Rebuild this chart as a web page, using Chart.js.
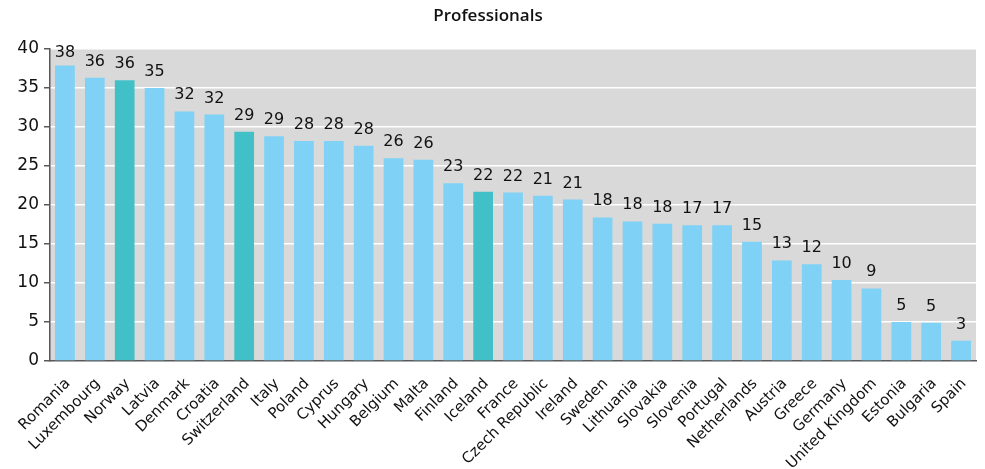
<!DOCTYPE html>
<html>
<head>
<meta charset="utf-8">
<title>Professionals</title>
<script src="https://cdn.jsdelivr.net/npm/chart.js@4.4.0/dist/chart.umd.min.js"></script>
<style>
  html, body { margin: 0; padding: 0; background: #fff; }
  #wrap { width: 985px; height: 469px; }
</style>
</head>
<body>
<div id="wrap"><canvas id="chart" width="985" height="469"></canvas></div>
<script>
// Data
const categories = [
  'Romania', 'Luxembourg', 'Norway', 'Latvia', 'Denmark', 'Croatia', 'Switzerland',
  'Italy', 'Poland', 'Cyprus', 'Hungary', 'Belgium', 'Malta', 'Finland', 'Iceland',
  'France', 'Czech Republic', 'Ireland', 'Sweden', 'Lithuania', 'Slovakia', 'Slovenia',
  'Portugal', 'Netherlands', 'Austria', 'Greece', 'Germany', 'United Kingdom',
  'Estonia', 'Bulgaria', 'Spain'
];
const values = [
  37.9, 36.3, 36.0, 35.0, 32.0, 31.6, 29.4,
  28.8, 28.2, 28.2, 27.6, 26.0, 25.8, 22.8, 21.7,
  21.6, 21.2, 20.7, 18.4, 17.9, 17.6, 17.4,
  17.4, 15.3, 12.9, 12.4, 10.4, 9.3,
  5.0, 4.9, 2.6
];
// non-EU countries drawn in the darker colour
const highlighted = ['Norway', 'Switzerland', 'Iceland'];
const yTicks = [0, 5, 10, 15, 20, 25, 30, 35, 40];

// Styles
const LIGHT = '#7FD1F5';
const TEAL = '#42C0C7';
const PLOT_BG = '#D9D9D9';
const AXIS = '#595959';
const FONT = "'DejaVu Sans', Verdana, sans-serif";

// grey plot background
const plotBg = {
  id: 'plotBg',
  beforeDraw(chart) {
    const { ctx, chartArea: a } = chart;
    ctx.save();
    ctx.fillStyle = PLOT_BG;
    ctx.fillRect(a.left, a.top, a.right - a.left, a.bottom - a.top);
    ctx.restore();
  }
};

// value labels above bars
const valueLabels = {
  id: 'valueLabels',
  afterDatasetsDraw(chart) {
    const { ctx } = chart;
    const meta = chart.getDatasetMeta(0);
    ctx.save();
    ctx.font = '16px ' + FONT;
    ctx.fillStyle = '#111';
    ctx.textAlign = 'center';
    ctx.textBaseline = 'alphabetic';
    meta.data.forEach((bar, i) => {
      const y = Math.max(bar.y - 12, 57);
      ctx.fillText(String(Math.round(values[i])), bar.x, y);
    });
    ctx.restore();
  }
};

new Chart(document.getElementById('chart'), {
  type: 'bar',
  data: {
    labels: categories,
    datasets: [{
      data: values,
      backgroundColor: categories.map(c => highlighted.includes(c) ? TEAL : LIGHT),
      borderWidth: 0,
      barPercentage: 0.66,
      categoryPercentage: 1
    }]
  },
  options: {
    responsive: false,
    animation: false,
    layout: { padding: { left: 0, right: 9, top: 0, bottom: 0 } },
    plugins: {
      legend: { display: false },
      tooltip: { enabled: false },
      title: {
        display: true,
        text: 'Professionals',
        color: '#111',
        font: { family: "'Open Sans', sans-serif", size: 17, weight: '600' },
        padding: { top: 6, bottom: 22.6 }
      }
    },
    scales: {
      x: {
        grid: { display: false },
        border: { display: true, color: AXIS, width: 1.5 },
        ticks: {
          autoSkip: false,
          minRotation: 45,
          maxRotation: 45,
          padding: 6,
          labelOffset: 3,
          color: '#111',
          font: { family: FONT, size: 15 }
        },
        afterFit(scale) { scale.height = 469 - 361; }
      },
      y: {
        min: yTicks[0],
        max: yTicks[yTicks.length - 1],
        afterBuildTicks(scale) { scale.ticks = yTicks.map(v => ({ value: v })); },
        grid: { color: '#FFFFFF', lineWidth: 1.5, tickColor: AXIS, tickLength: 6 },
        border: { display: true, color: AXIS, width: 1.5 },
        ticks: {
          padding: 5,
          color: '#111',
          font: { family: FONT, size: 17 }
        },
        afterFit(scale) { scale.width = 50; }
      }
    }
  },
  plugins: [plotBg, valueLabels]
});
</script>
</body>
</html>
